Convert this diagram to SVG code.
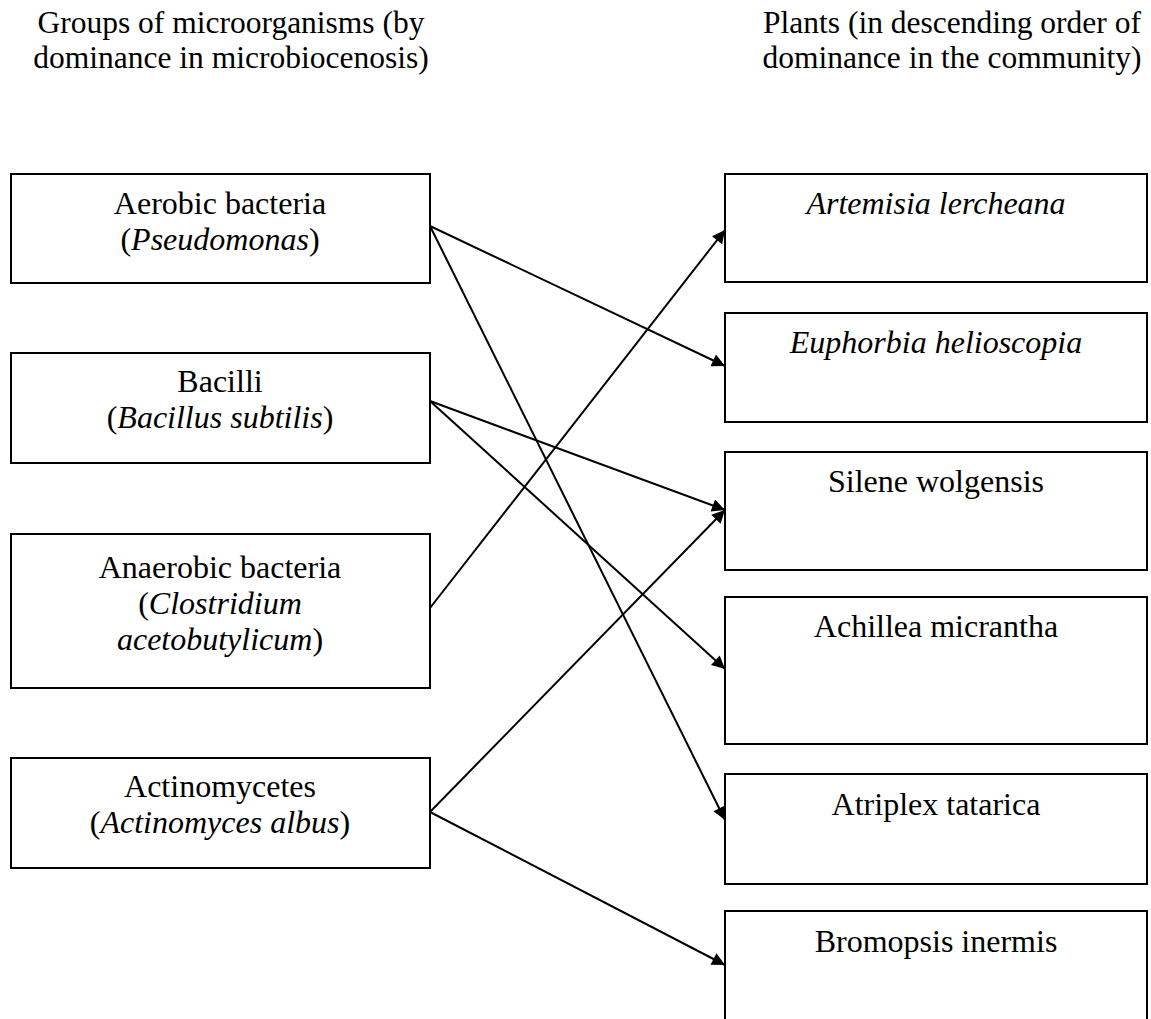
<svg xmlns="http://www.w3.org/2000/svg" width="1151" height="1019" viewBox="0 0 1151 1019">
<defs>
<marker id="ah" viewBox="0 0 10 10" refX="10" refY="5" markerWidth="15" markerHeight="13" markerUnits="userSpaceOnUse" orient="auto">
<path d="M0,0 L10,5 L0,10 z" fill="#000"/>
</marker>
<style>
.box{fill:#fff;stroke:#000;stroke-width:2}
text{font-family:"Liberation Serif","Times New Roman",serif;font-size:32px;fill:#000;text-anchor:middle}
.h{font-size:31.5px}
.i{font-style:italic}
.c{stroke:#000;stroke-width:2;fill:none;marker-end:url(#ah)}
</style>
</defs>
<rect width="1151" height="1019" fill="#fff"/>
<g id="header-left"><text class="h" x="231" y="33">Groups of microorganisms (by</text><text class="h" x="231" y="68">dominance in microbiocenosis)</text></g>
<g id="header-right"><text class="h" x="952" y="33">Plants (in descending order of</text><text class="h" x="952" y="68">dominance in the community)</text></g>
<g id="m1"><rect class="box" x="11" y="174" width="419" height="109"/><text x="220" y="214">Aerobic bacteria</text><text x="220" y="250">(<tspan class="i">Pseudomonas</tspan>)</text></g>
<g id="m2"><rect class="box" x="11" y="353" width="419" height="110"/><text x="220" y="392">Bacilli</text><text x="220" y="428">(<tspan class="i">Bacillus subtilis</tspan>)</text></g>
<g id="m3"><rect class="box" x="11" y="534" width="419" height="154"/><text x="220" y="578">Anaerobic bacteria</text><text x="220" y="614">(<tspan class="i">Clostridium</tspan></text><text x="220" y="650"><tspan class="i">acetobutylicum</tspan>)</text></g>
<g id="m4"><rect class="box" x="11" y="758" width="419" height="110"/><text x="220" y="797">Actinomycetes</text><text x="220" y="833">(<tspan class="i">Actinomyces albus</tspan>)</text></g>
<g id="p1"><rect class="box" x="725" y="174" width="422" height="108"/><text class="i" x="936" y="214">Artemisia lercheana</text></g>
<g id="p2"><rect class="box" x="725" y="313" width="422" height="109"/><text class="i" x="936" y="353">Euphorbia helioscopia</text></g>
<g id="p3"><rect class="box" x="725" y="452" width="422" height="118"/><text x="936" y="492">Silene wolgensis</text></g>
<g id="p4"><rect class="box" x="725" y="597" width="422" height="147"/><text x="936" y="637">Achillea micrantha</text></g>
<g id="p5"><rect class="box" x="725" y="774" width="422" height="110"/><text x="936" y="815">Atriplex tatarica</text></g>
<g id="p6"><rect class="box" x="725" y="911" width="422" height="120"/><text x="936" y="952">Bromopsis inermis</text></g>
<g id="connectors">
<line class="c" x1="430" y1="226" x2="725" y2="366"/>
<line class="c" x1="430" y1="226" x2="725" y2="820"/>
<line class="c" x1="430" y1="401" x2="725" y2="510"/>
<line class="c" x1="430" y1="401" x2="725" y2="669"/>
<line class="c" x1="430" y1="608" x2="725" y2="230"/>
<line class="c" x1="430" y1="812" x2="725" y2="510"/>
<line class="c" x1="430" y1="812" x2="725" y2="965"/>
</g>
</svg>
